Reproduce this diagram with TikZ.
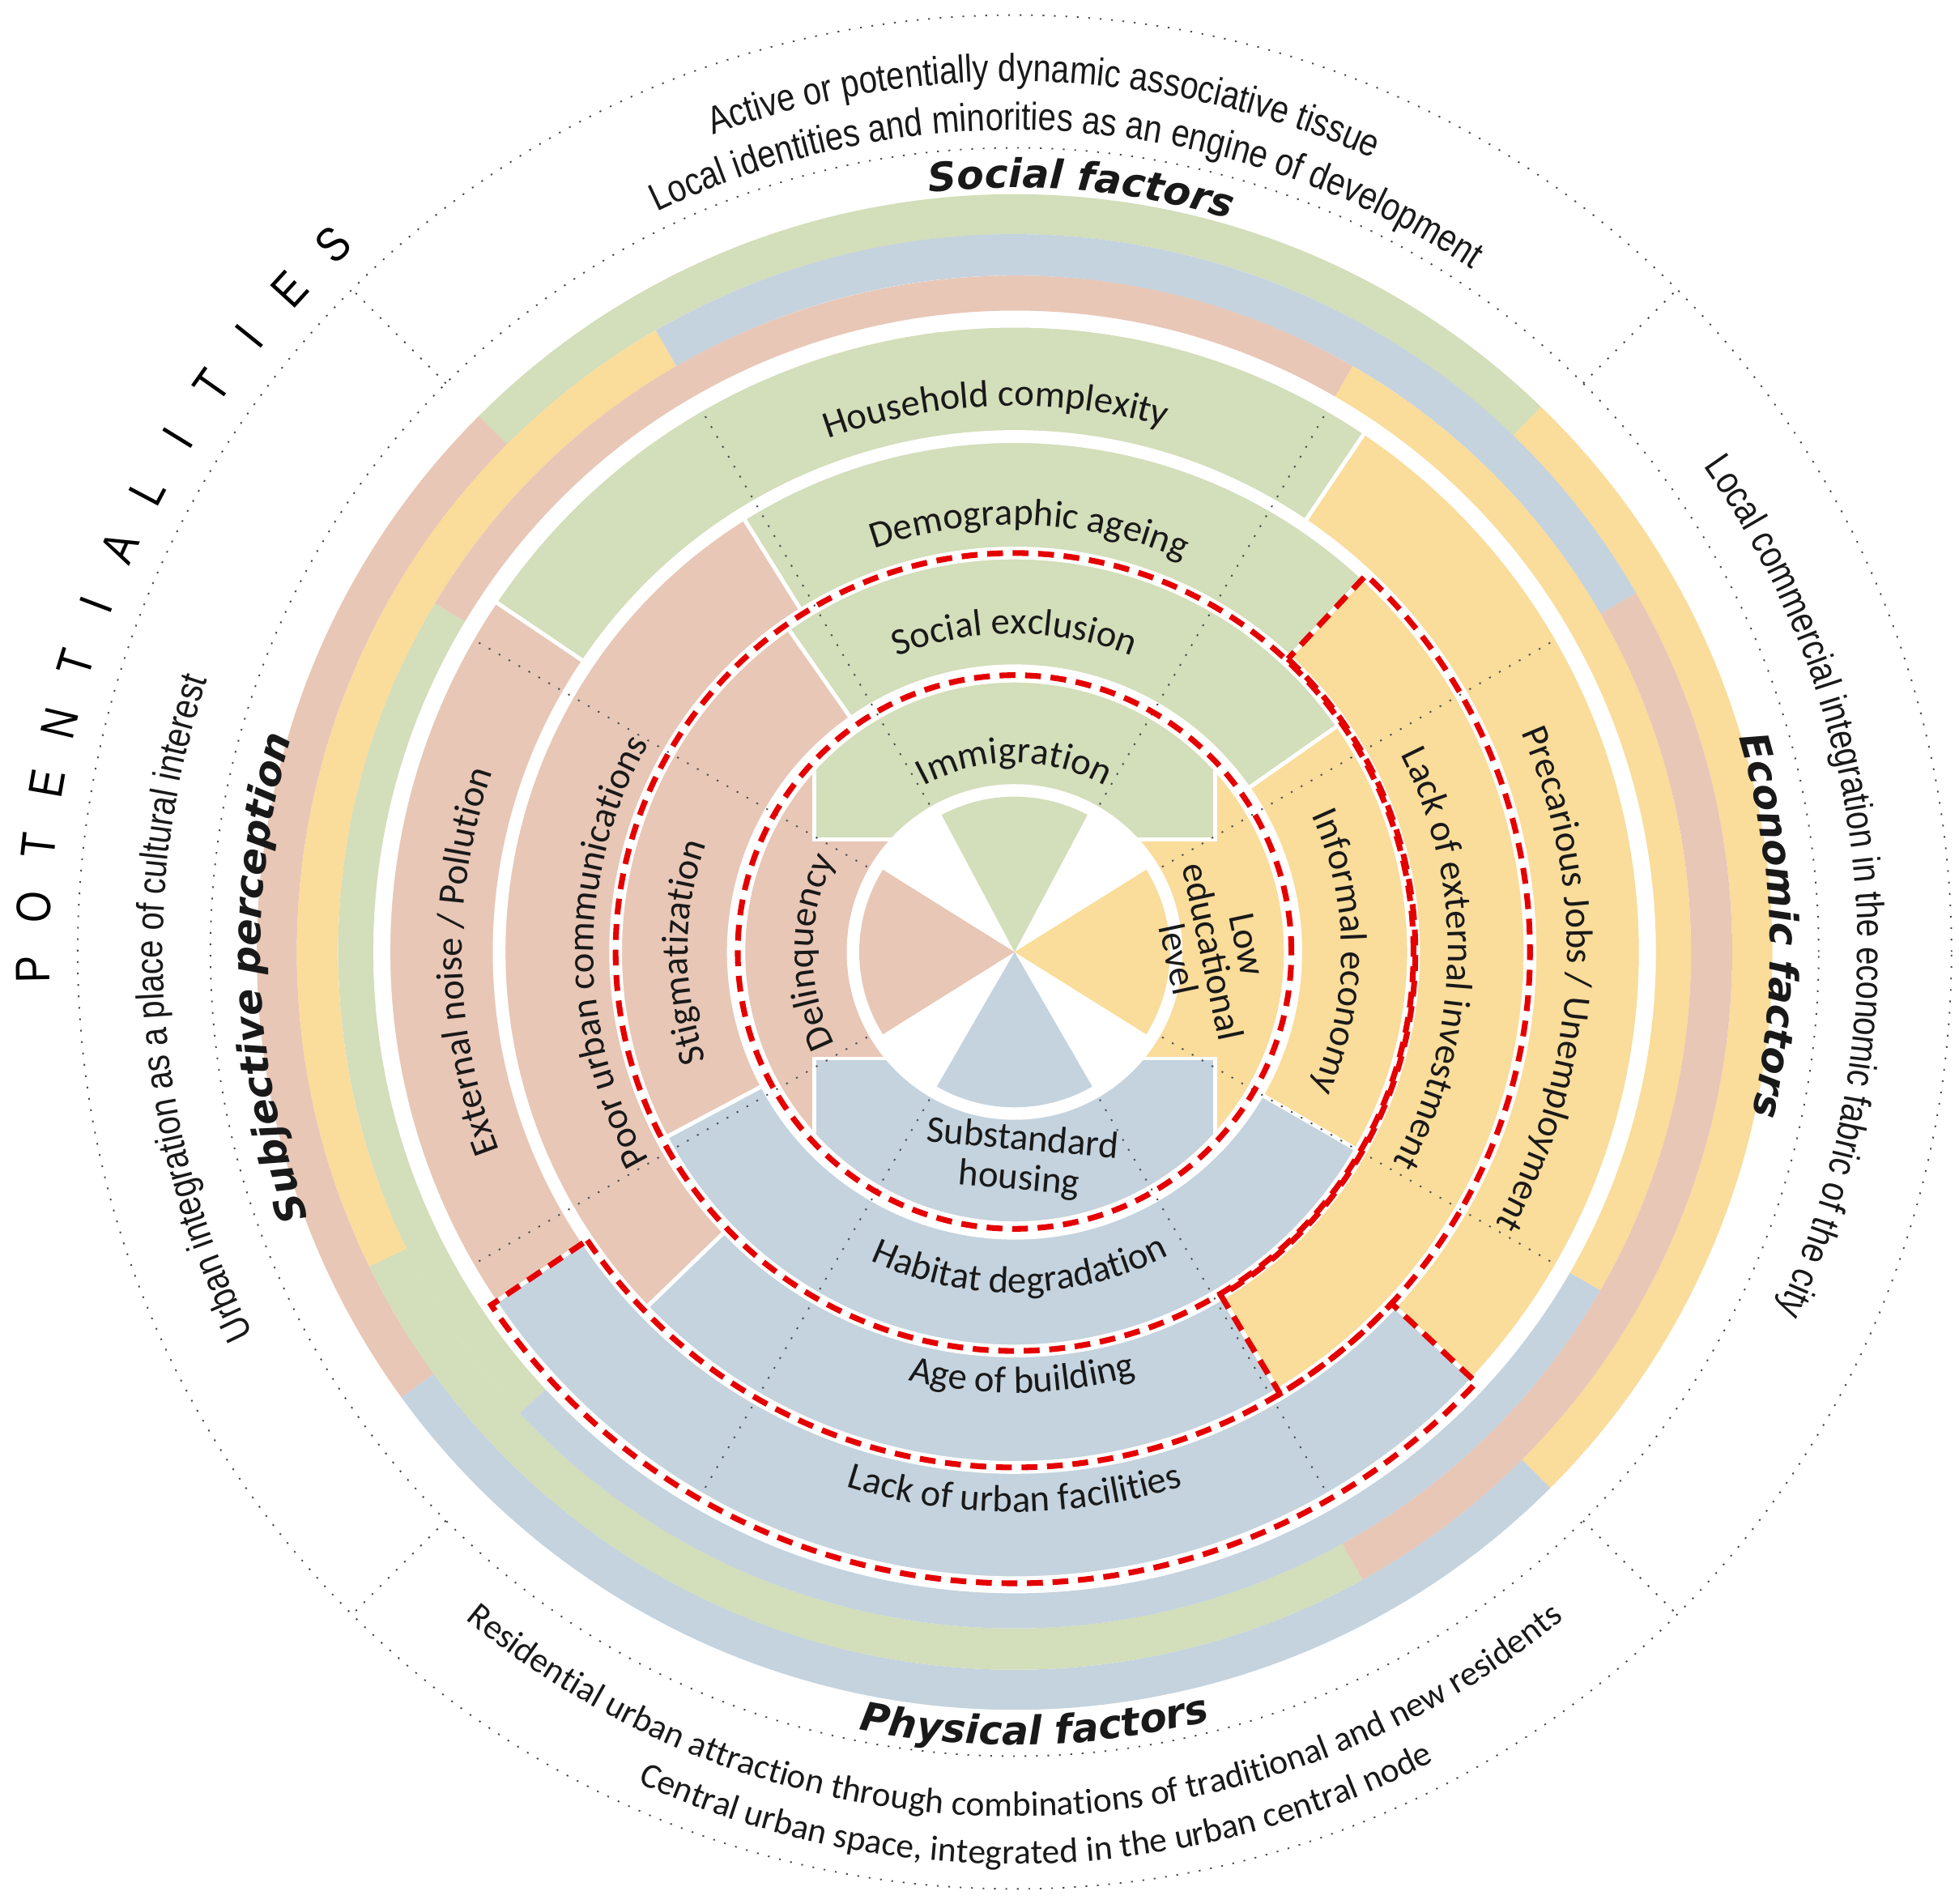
\documentclass[tikz,border=0pt]{standalone}
\usepackage{fontspec}
\usetikzlibrary{decorations.text}
\newfontfamily\carlito{Carlito}
\newfontfamily\narrowfont{Liberation Sans}[FakeStretch=0.84]
\newfontfamily\headfont{DejaVu Sans}
\definecolor{grn}{RGB}{211,222,186}
\definecolor{blu}{RGB}{196,211,222}
\definecolor{pnk}{RGB}{232,199,183}
\definecolor{yel}{RGB}{250,220,155}
\definecolor{ink}{RGB}{25,25,25}
\newcommand\lab{\carlito\fontsize{8.6}{10}\selectfont\color{ink}}
\newcommand\outlab{\narrowfont\fontsize{8.8}{10}\selectfont\color{ink}}
\newcommand\botfont{\carlito\fontsize{8}{9}\selectfont\color{ink}}
\newcommand\head{\headfont\bfseries\itshape\fontsize{9}{10}\selectfont\color{ink}}
% annular sector: colour, from, to, inner, outer
\newcommand\ringsec[5]{\path[fill=#1,draw=white,line width=0.9pt] (#2:#4) arc[start angle=#2,end angle=#3,radius=#4] -- (#3:#5) arc[start angle=#3,end angle=#2,radius=#5] -- cycle;}
\newcommand\bandsec[5]{\fill[#1] (#2:#4) arc[start angle=#2,end angle=#3,radius=#4] -- (#3:#5) arc[start angle=#3,end angle=#2,radius=#5] -- cycle;}
% text on an arc, clockwise (top, left, right) and counter clockwise (bottom)
\newcommand\cwlab[4]{\path[decorate,decoration={text along path,text align=center,text={|#1|#4}}] ({#2+80}:#3) arc[start angle={#2+80},end angle={#2-80},radius=#3];}
\newcommand\ccwlab[4]{\path[decorate,decoration={text along path,text align=center,text={|#1|#4}}] ({#2-80}:#3) arc[start angle={#2-80},end angle={#2+80},radius=#3];}
\tikzset{
  redline/.style={red!90!black,line width=1.3pt,dash pattern=on 3.6pt off 2.2pt},
  thindots/.style={black!70,line width=0.35pt,dash pattern=on 0.4pt off 2.2pt},
}
\begin{document}
\begin{tikzpicture}
\useasboundingbox (-8.10,-7.60) rectangle (7.54,7.60);
\fill[white] (-8.10,-7.60) rectangle (7.54,7.60);
% outer bands
\foreach \c/\a/\b in {grn/46/135, pnk/135/216, blu/216/315, yel/315/406}
  \bandsec{\c}{\a}{\b}{5.73}{6.05};
\foreach \c/\a/\b in {blu/30/120, yel/120/206, grn/206/299, pnk/299/390}
  \bandsec{\c}{\a}{\b}{5.40}{5.73};
\foreach \c/\a/\b in {pnk/60/149, grn/149/223, blu/223/330, yel/330/420}
  \bandsec{\c}{\a}{\b}{5.12}{5.40};
% factor rings
\foreach \c/\a/\b in {grn/56/146, pnk/146/214, blu/214/317, yel/-43/56}
  \ringsec{\c}{\a}{\b}{4.15}{5.00};
\foreach \c/\a/\b in {grn/47/122, pnk/122/224, blu/224/301, yel/-59/47}
  \ringsec{\c}{\a}{\b}{3.22}{4.08};
\foreach \c/\a/\b in {grn/35/125, pnk/125/208, blu/208/330, yel/-30/35}
  \ringsec{\c}{\a}{\b}{2.28}{3.15};
\begin{scope}
  \clip (0,0) circle (2.15);
  \fill[pnk] (-3,-3) rectangle (0,3);
  \fill[yel] (0,-3) rectangle (3,3);
  \path[fill=grn,draw=white,line width=0.9pt] (-1.6,0.9) rectangle (1.6,3);
  \path[fill=blu,draw=white,line width=0.9pt] (-1.6,-0.85) rectangle (1.6,-3);
\end{scope}
\fill[white] (0,0) circle (1.34);
\foreach \c/\a/\b in {grn/62/118, yel/-32/32, pnk/148/212, blu/240/300}
  \fill[\c] (0,0) -- (\a:1.24) arc[start angle=\a,end angle=\b,radius=1.24] -- cycle;
% dotted guides
\foreach \a in {30,60,120,150,210,240,300,330}
  \draw[thindots] (\a:1.36) -- (\a:5.0);
\draw[thindots] (0,0) circle (6.42) (0,0) circle (7.48);
\foreach \a in {45,135,225,315}
  \draw[thindots] (\a:6.42) -- (\a:7.48);
% red outlines
\draw[redline] (0,0) circle (2.21);
\draw[redline] (0,0) circle (3.185);
\draw[redline] (47:3.20) arc[start angle=47,end angle=-59,radius=3.20] -- (-59:4.115) arc[start angle=-59,end angle=47,radius=4.115] -- cycle;
\draw[redline] (214:4.115) arc[start angle=214,end angle=317,radius=4.115] -- (317:5.04) arc[start angle=317,end angle=214,radius=5.04] -- cycle;
% ring labels
\cwlab{\lab}{90}{1.51}{Immigration}
\cwlab{\lab}{90}{2.54}{Social exclusion}
\cwlab{\lab}{88}{3.41}{Demographic ageing}
\cwlab{\lab}{92}{4.36}{Household complexity}
\cwlab{\lab}{180}{1.61}{Delinquency}
\cwlab{\lab}{180}{2.61}{Stigmatization}
\cwlab{\lab}{180}{3.36}{Poor urban communications}
\cwlab{\lab}{181}{4.41}{External noise / Pollution}
\cwlab{\lab}{0}{2.61}{Informal economy}
\cwlab{\lab}{-1}{3.46}{Lack of external investment}
\cwlab{\lab}{-3}{4.41}{Precarious Jobs / Unemployment}
\ccwlab{\lab}{271}{2.72}{Habitat degradation}
\ccwlab{\lab}{271}{3.52}{Age of building}
\ccwlab{\lab}{270}{4.47}{Lack of urban facilities}
\node (lowedu) at (1.58,0) [rotate=-78,align=center,font=\lab,inner sep=0pt] {Low\\[-2pt]educational\\[-2pt]level};
\node (subhou) at (0.05,-1.66) [rotate=-5,align=center,font=\lab,inner sep=0pt] {Substandard\\[-1pt]housing};
% factor headings
\cwlab{\head}{85}{6.10}{Social factors}
\cwlab{\head}{2}{6.03}{Economic factors}
\ccwlab{\head}{271.5}{6.33}{Physical factors}
\cwlab{\head}{182}{6.02}{Subjective perception}
% potentialities
\cwlab{\outlab}{88}{6.95}{Active or potentially dynamic associative tissue}
\cwlab{\outlab}{86}{6.56}{Local identities and minorities as an engine of development}
\cwlab{\outlab}{5}{6.73}{Local commercial integration in the economic fabric of the city}
\cwlab{\outlab}{184}{6.80}{Urban integration as a place of cultural interest}
\ccwlab{\botfont}{270}{6.90}{Residential urban attraction through combinations of traditional and new residents}
\ccwlab{\botfont}{271.5}{7.28}{Central urban space, integrated in the urban central node}
\foreach \ch [count=\i from 0] in {P,O,T,E,N,T,I,A,L,I,T,I,E,S}
  \node (pot\i) at ({181-\i*3.62}:7.84) [rotate={91-\i*3.62},font=\narrowfont\fontsize{11}{12}\selectfont] {\ch};
\end{tikzpicture}
\end{document}
